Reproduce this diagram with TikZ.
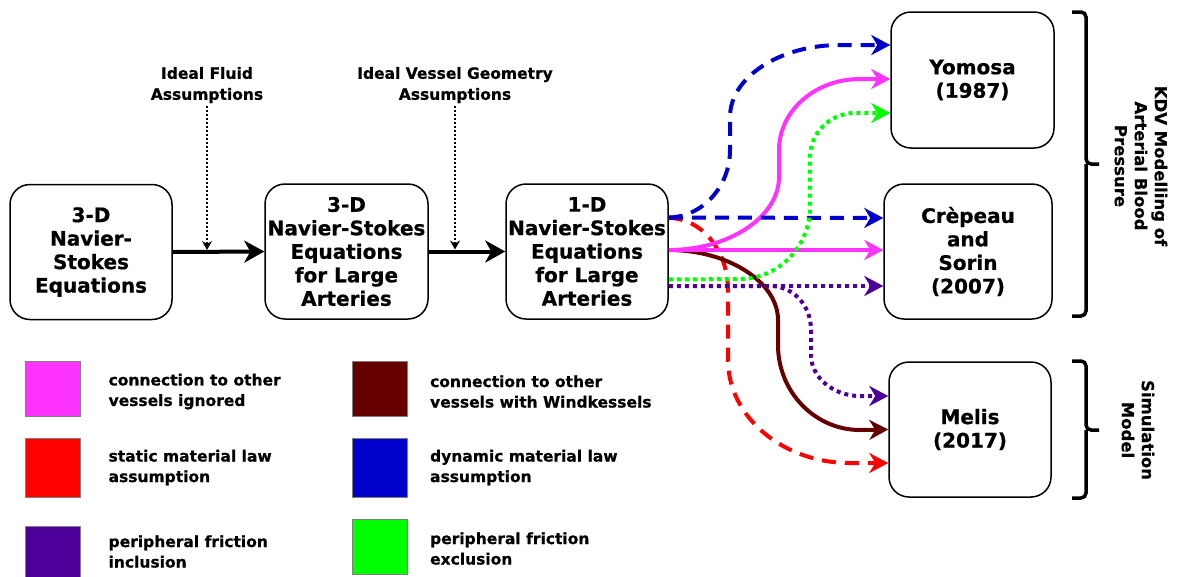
\documentclass[tikz,border=0pt]{standalone}
\usepackage{fontspec}
\setmainfont{DejaVu Sans}[BoldFeatures={FakeBold=0.6}]
\usetikzlibrary{arrows.meta,positioning,calc}
\definecolor{linkPink}{HTML}{FF33FF}
\definecolor{linkDarkRed}{HTML}{660000}
\definecolor{linkRed}{HTML}{FF0000}
\definecolor{linkBlue}{HTML}{0000CC}
\definecolor{linkPurple}{HTML}{4C0099}
\definecolor{linkGreen}{HTML}{00FF00}

\begin{document}
\begin{tikzpicture}[
x=1pt, y=-1pt,
every node/.style={font=\bfseries},
stage/.style={draw, line width=1.5pt, rounded corners=20pt, align=center, inner sep=0pt, minimum width=162pt, minimum height=135pt, font=\fontsize{20}{23.5}\selectfont\bfseries},
note/.style={align=center, inner sep=0pt, font=\fontsize{15.5}{21}\selectfont\bfseries},
key/.style={draw=gray, line width=0.8pt, minimum width=55pt, minimum height=55pt, inner sep=0pt},
keytext/.style={align=left, inner sep=0pt, font=\fontsize{15.5}{20.5}\selectfont\bfseries},
side/.style={rotate=-90, align=center, inner sep=0pt, font=\fontsize{16.5}{20}\selectfont\bfseries},
arr/.style={-{Stealth[length=20pt,width=22pt,inset=6pt]}, line width=4pt},
hint/.style={-{Stealth[length=9pt,width=10pt,inset=3pt]}, line width=2pt, dash pattern=on 2pt off 2pt},
link/.style={-{Stealth[length=19pt,width=20pt,inset=6pt]}, line width=4pt},
dashlink/.style={link, dash pattern=on 14pt off 9pt},
dotlink/.style={link, dash pattern=on 4pt off 4pt},
bracket/.style={line width=3.5pt, rounded corners=5pt}
]
\clip (0,0) rectangle (1183,576);

% Main chain of models
\node[stage] (nse3d) at (91,252) {3-D\\Navier-\\Stokes\\Equations};
\node[stage, minimum width=163pt] (nseLarge) at (346.5,251.5) {3-D\\Navier-Stokes\\Equations\\for Large\\Arteries};
\node[stage] (nse1d) at (587,251.5) {1-D\\Navier-Stokes\\Equations\\for Large\\Arteries};
\draw[arr] (nse3d.east) -- (nseLarge.west);
\draw[arr] (nseLarge.east) -- (nse1d.west);

% Assumptions dropping onto the chain
\node[note] (fluid) at (207,85) {Ideal Fluid\\Assumptions};
\node[note] (geom) at (455,85) {Ideal Vessel Geometry\\Assumptions};
\coordinate (fluidDrop) at (nse3d.east -| fluid.south);
\coordinate (geomDrop) at (nseLarge.east -| geom.south);
\draw[hint, shorten <=3pt, shorten >=2pt] (fluid) -- (fluidDrop);
\draw[hint, shorten <=3pt, shorten >=2pt] (geom) -- (geomDrop);

% Target models
\node[stage, minimum width=163pt, minimum height=136pt] (yomosa) at (972.5,80) {Yomosa\\(1987)};
\node[stage, minimum width=168pt] (crepeau) at (968,251.5) {Crèpeau\\and\\Sorin\\(2007)};
\node[stage] (melis) at (970,429.5) {Melis\\(2017)};

% Links from 1-D model
\draw[dashlink, linkRed] ([yshift=33.5pt]nse1d.east) .. controls (701,218) and (728,250) .. (728,290) -- (728,360)
  .. controls (728,417) and (783,463) .. (850,463) -- ([yshift=-33.5pt]melis.west);
\draw[link, linkDarkRed] ([yshift=1.5pt]nse1d.east) .. controls (728,250) and (778,282) .. (778,320) -- (778,345)
  .. controls (778,392) and (815,430) .. (860,430) -- (melis.west);
\draw[link, linkPink] ([yshift=1.5pt]nse1d.east) -- ([yshift=1.5pt]crepeau.west);
\draw[link, linkPink] ([yshift=1.5pt]nse1d.east) .. controls (729,250) and (779,217) .. (779,177) -- (779,150)
  .. controls (779,111) and (815,79) .. (860,79) -- ([yshift=1pt]yomosa.west);
\draw[dashlink, linkBlue] ([yshift=34pt]nse1d.east) -- ([yshift=33.5pt]crepeau.west);
\draw[dashlink, linkBlue] ([yshift=34pt]nse1d.east) .. controls (702,217) and (730,187) .. (730,150) -- (730,117)
  .. controls (730,77) and (780,45) .. (840,45) -- ([yshift=35pt]yomosa.west);
\draw[dotlink, linkPurple] ([yshift=-34.5pt]nse1d.east) -- ([yshift=-34.5pt]crepeau.west);
\draw[dotlink, linkPurple] ([yshift=-34.5pt]nse1d.east) -- (770,286) .. controls (793,286) and (811,305) .. (811,330) -- (811,355)
  .. controls (811,377) and (833,396) .. (860,396) -- ([yshift=33.5pt]melis.west);
\draw[dotlink, linkGreen] ([yshift=-28pt]nse1d.east) -- (740,279) .. controls (778,279) and (810,247) .. (810,207) -- (810,157)
  .. controls (810,133) and (830,113) .. (855,113) -- ([yshift=-33pt]yomosa.west);

% Brackets
\draw[bracket] (1072,12) -| (1086,164) -- (1099,164);
\draw[bracket] (1086,164) |- (1072,316);
\node[side] (kdv) at (1141,166) {KDV Modelling of\\Arterial Blood\\Pressure};
\draw[bracket] (1072,361) -| (1086,430) -- (1099,430);
\draw[bracket] (1086,430) |- (1072,498);
\node[side] (sim) at (1138,430) {Simulation\\Model};

% Legend
\node[key, fill=linkPink] (keyPink) at (52.5,388.5) {};
\node[key, fill=linkRed, minimum height=59pt] (keyRed) at (52.5,467.5) {};
\node[key, fill=linkPurple] (keyPurple) at (52.5,553.5) {};
\node[key, fill=linkDarkRed] (keyDark) at (380,388.5) {};
\node[key, fill=linkBlue, minimum height=59pt] (keyBlue) at (380,467.5) {};
\node[key, fill=linkGreen] (keyGreen) at (380,546.5) {};
\node[keytext, right=28pt of keyPink, yshift=-3pt] (txtPink) {connection to other\\vessels ignored};
\node[keytext, right=28pt of keyRed] (txtRed) {static material law\\assumption};
\node[keytext, right=28pt of keyPurple, yshift=2pt] (txtPurple) {peripheral friction\\inclusion};
\node[keytext, right=22pt of keyDark, yshift=-3pt] (txtDark) {connection to other\\vessels with Windkessels};
\node[keytext, right=22pt of keyBlue] (txtBlue) {dynamic material law\\assumption};
\node[keytext, right=22pt of keyGreen, yshift=-2pt] (txtGreen) {peripheral friction\\exclusion};
\end{tikzpicture}
\end{document}
